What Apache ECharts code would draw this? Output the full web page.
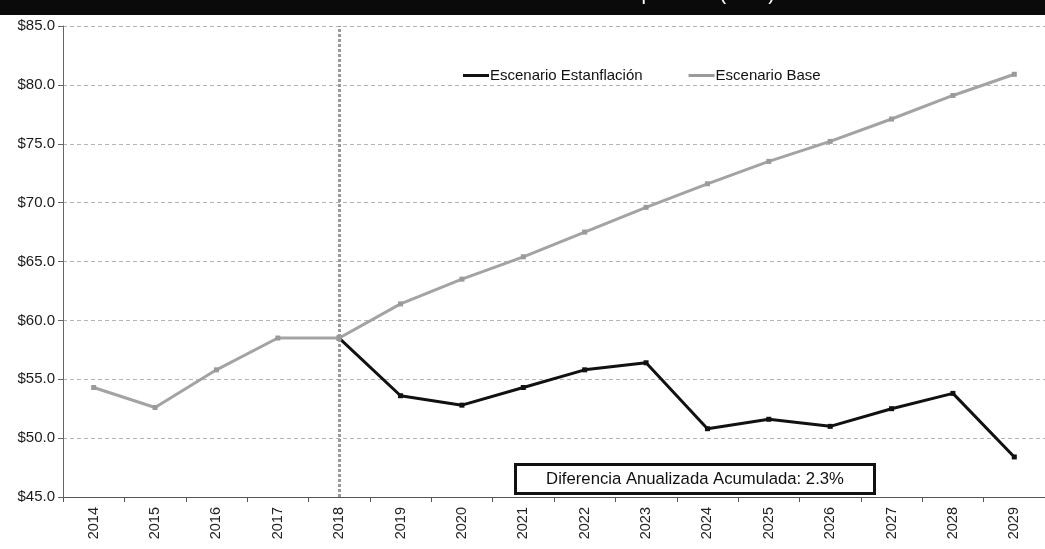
<!DOCTYPE html>
<html>
<head>
<meta charset="utf-8">
<script src="https://cdn.jsdelivr.net/npm/echarts@6/dist/echarts.min.js"></script>
<style>
html,body{margin:0;padding:0;background:#fff;}
#c{width:1045px;height:549px;}
</style>
</head>
<body>
<div id="c"></div>
<script>
const years = ['2014','2015','2016','2017','2018','2019','2020','2021','2022','2023','2024','2025','2026','2027','2028','2029'];
const estanflacion = [null,null,null,null,58.5,53.6,52.8,54.3,55.8,56.4,50.8,51.6,51.0,52.5,53.8,48.4];
const base = [54.3,52.6,55.8,58.5,58.5,61.4,63.5,65.4,67.5,69.6,71.6,73.5,75.2,77.1,79.1,80.9];
const yTicks = [45,50,55,60,65,70,75,80,85];
const seriesNames = ['Escenario Estanflación','Escenario Base'];
const markerYear = '2018';
const noteText = 'Diferencia Anualizada Acumulada: 2.3%';
const titleText = 'Precio del barril de petróleo (USD)';

const chart = echarts.init(document.getElementById('c'));
const font = '"Liberation Sans", Arial, sans-serif';
chart.setOption({
  animation: false,
  backgroundColor: '#ffffff',
  grid: {left: 63, top: 26, width: 991, height: 471, containLabel: false},
  legend: {
    top: 63, left: 458,
    itemGap: 46, itemWidth: 26, itemHeight: 3,
    icon: 'rect',
    textStyle: {fontFamily: font, fontSize: 15, color: '#111', padding: [0,0,0,-4]},
    data: seriesNames
  },
  xAxis: {
    type: 'category', data: years, boundaryGap: true,
    axisLine: {lineStyle: {color: '#555', width: 1}},
    axisTick: {show: true, length: 5, lineStyle: {color: '#555'}},
    axisLabel: {rotate: 90, fontFamily: font, fontSize: 14.5, color: '#222', margin: 10}
  },
  yAxis: {
    type: 'value', min: yTicks[0], max: yTicks[yTicks.length-1], interval: 5,
    axisLine: {show: true, lineStyle: {color: '#666', width: 1}},
    axisTick: {show: true, length: 5, lineStyle: {color: '#666'}},
    axisLabel: {fontFamily: font, fontSize: 15, color: '#1a1a1a', margin: 8,
      formatter: v => '$' + v.toFixed(1)},
    splitLine: {show: true, lineStyle: {color: '#b5b5b5', type: [4,3], width: 1}}
  },
  series: [
    {
      name: seriesNames[0], type: 'line', data: estanflacion,
      symbol: 'rect', symbolSize: 5, showSymbol: true,
      lineStyle: {color: '#111', width: 3},
      itemStyle: {color: '#111'},
      z: 3
    },
    {
      name: seriesNames[1], type: 'line', data: base,
      symbol: 'rect', symbolSize: 5,
      lineStyle: {color: '#a3a3a3', width: 3},
      itemStyle: {color: '#9a9a9a'},
      z: 4,
      markLine: {
        silent: true, symbol: 'none', label: {show: false},
        lineStyle: {color: '#9a9a9a', type: [3,2], width: 3},
        data: [{xAxis: markerYear}]
      }
    }
  ],
  graphic: [
    {type: 'rect', left: 0, top: 0, shape: {width: 1045, height: 15}, style: {fill: '#0a0a0a'}, z: 10},
    {type: 'text', right: 270, top: -16, z: 11,
      style: {text: titleText, fill: '#ffffff', font: '20px "Liberation Sans", Arial'}},
    {type: 'group', left: 514, top: 463, z: 12, children: [
      {type: 'rect', shape: {x: 0, y: 0, width: 359, height: 29},
        style: {fill: '#fff', stroke: '#111', lineWidth: 3}},
      {type: 'text', x: 179.5, y: 14.5,
        style: {text: noteText, fill: '#111', font: '16.7px "Liberation Sans", Arial', textAlign: 'center', textVerticalAlign: 'middle'}}
    ]}
  ]
});
</script>
</body>
</html>
